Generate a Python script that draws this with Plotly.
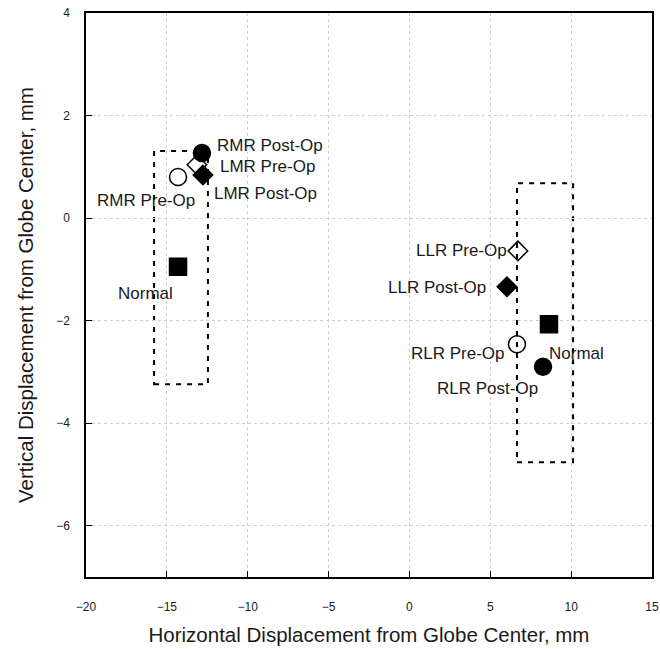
import plotly.graph_objects as go

labels = ["RMR Post-Op", "LMR Pre-Op", "LMR Post-Op", "RMR Pre-Op", "Normal",
          "LLR Pre-Op", "LLR Post-Op", "Normal", "RLR Pre-Op", "RLR Post-Op"]
x_vals = [-12.83, -13.14, -12.77, -14.31, -14.31, 6.71, 6.03, 8.63, 6.65, 8.26]
y_vals = [1.27, 1.04, 0.84, 0.80, -0.95, -0.64, -1.34, -2.07, -2.46, -2.90]
symbols = ["circle", "diamond-open", "diamond", "circle-open", "square",
           "diamond-open", "diamond", "square", "circle-open", "circle"]
sizes = [17, 15, 15, 17, 17, 15, 15, 17, 17, 17]

# label placement (pixel offsets, anchor)
lab_xshift = [13, 21, 9, 19, -3, -9, -19, -2, -10, -3]
lab_yshift = [7, -2, -18, -23, -27, 0, -1, -29, -9, -22]
lab_anchor = ["left", "left", "left", "right", "right",
              "right", "right", "left", "right", "right"]

# dashed range boxes: [x0, x1, y0, y1]
box_medial = [-15.79, -12.46, -3.24, 1.31]
box_lateral = [6.65, 10.12, -4.76, 0.68]

x_ticks = [-20, -15, -10, -5, 0, 5, 10, 15]
y_ticks = [-6, -4, -2, 0, 2, 4]

FONT = "Liberation Sans, Arial"

fig = go.Figure()
for b in (box_medial, box_lateral):
    fig.add_shape(type="rect", x0=b[0], x1=b[1], y0=b[2], y1=b[3],
                  line=dict(color="black", width=2, dash="5px,6px"), layer="below")

fig.add_trace(go.Scatter(
    x=x_vals, y=y_vals, mode="markers",
    marker=dict(symbol=symbols, size=sizes, color="#000000", opacity=1,
                line=dict(color="#000000", width=1.5)),
    showlegend=False, hoverinfo="skip"))

for i, t in enumerate(labels):
    fig.add_annotation(x=x_vals[i], y=y_vals[i], text=t, showarrow=False,
                       xanchor=lab_anchor[i], yanchor="middle",
                       xshift=lab_xshift[i], yshift=lab_yshift[i],
                       font=dict(family=FONT, size=17, color="#1a1a1a"))

axis_common = dict(
    showline=True, linecolor="black", linewidth=1.5, mirror=True,
    ticks="inside", ticklen=6, tickcolor="black", tickwidth=1,
    showgrid=True, gridcolor="#cfcfcf", griddash="dot", gridwidth=1,
    zeroline=False, automargin=False, ticklabeloverflow="allow",
    tickfont=dict(family=FONT, size=12, color="#1a1a1a"),
)

fig.update_xaxes(range=[-20, 15], tickvals=x_ticks, ticklabelstandoff=18,
                 title=dict(text="Horizontal Displacement from Globe Center, mm",
                            font=dict(family=FONT, size=20.5, color="#1a1a1a"),
                            standoff=14),
                 **axis_common)
fig.update_yaxes(range=[-7, 4], tickvals=y_ticks, ticklabelstandoff=12,
                 title=dict(text="Vertical Displacement from Globe Center, mm",
                            font=dict(family=FONT, size=20.5, color="#1a1a1a"),
                            standoff=17),
                 **axis_common)

fig.update_layout(width=660, height=649,
                  margin=dict(l=86, r=8, t=13, b=72),
                  plot_bgcolor="white", paper_bgcolor="white")

# remove the default 8px page margin so the figure fills the window exactly
fig.write_html("out.html",
               config={"displayModeBar": False},
               post_script="document.body.style.margin='0';document.body.style.overflow='hidden';")
